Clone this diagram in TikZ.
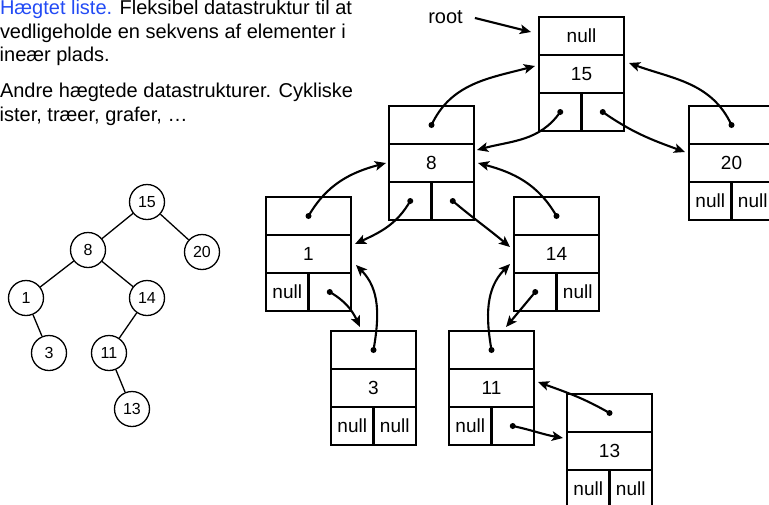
\documentclass[tikz,border=0pt]{standalone}
\usepackage{fontspec}
\setmainfont{Liberation Sans}
\usetikzlibrary{arrows.meta,calc}
\definecolor{linkblue}{RGB}{35,75,245}
\tikzset{
  cellbox/.style={draw, line width=2.1pt, minimum height=38pt, inner sep=0pt, outer sep=0pt,
    font=\fontsize{19}{19}\selectfont},
  conn/.style={line width=2.1pt, -{Stealth[length=11pt,width=9.5pt,inset=2.5pt]}},
  txt/.style={inner sep=0pt, outer sep=0pt, anchor=base west, font=\fontsize{20}{24}\selectfont},
  treenode/.style={draw, circle, line width=1.3pt, minimum size=35pt, inner sep=0pt,
    font=\fontsize{16}{16}\selectfont},
  treeedge/.style={line width=1.3pt}
}
\newcommand\mklistnode[7]{%
  \node[cellbox,minimum width=85pt] (#1t) at ({#2+42.5},{-(#3)-19}) {#4};
  \node[cellbox,minimum width=85pt] (#1m) at ({#2+42.5},{-(#3)-57}) {#5};
  \node[cellbox,minimum width=42.5pt] (#1l) at ({#2+21.25},{-(#3)-95}) {#6};
  \node[cellbox,minimum width=42.5pt] (#1r) at ({#2+63.75},{-(#3)-95}) {#7};
}
\newcommand\mklink[3]{\fill (#1) circle (3pt); \draw[conn] (#1) to[#2] (#3);}
\begin{document}
\begin{tikzpicture}[x=1pt,y=1pt]
\useasboundingbox (0,0) rectangle (769,-504);
\clip (0,0) rectangle (769,-504);
% text
\node[txt] (line1) at (0,-14.5) {{\color{linkblue}Hægtet liste.} Fleksibel datastruktur til at};
\node[txt] (line2) at (0,-38) {vedligeholde en sekvens af elementer i};
\node[txt] (line3) at (-0.3,-61.5) {ineær plads.};
\node[txt] (line4) at (0,-97.5) {Andre hægtede datastrukturer. Cykliske};
\node[txt] (line5) at (-0.3,-121) {ister, træer, grafer, …};
% small tree
\node[treenode] (c15) at (147,-202) {15};
\node[treenode] (c8) at (88,-250) {8};
\node[treenode] (c20) at (202,-252) {20};
\node[treenode] (c1) at (26,-298) {1};
\node[treenode] (c14) at (147,-298) {14};
\node[treenode] (c3) at (49,-353) {3};
\node[treenode] (c11) at (109,-353) {11};
\node[treenode] (c13) at (132,-409) {13};
\draw[treeedge] (c15) -- (c8);
\draw[treeedge] (c15) -- (c20);
\draw[treeedge] (c8) -- (c1);
\draw[treeedge] (c8) -- (c14);
\draw[treeedge] (c1) -- (c3);
\draw[treeedge] (c14) -- (c11);
\draw[treeedge] (c11) -- (c13);
% linked nodes
\mklistnode{n15}{539}{17}{null}{15}{}{}
\mklistnode{n8}{389}{106}{}{8}{}{}
\mklistnode{n20}{689}{106}{}{20}{null}{null}
\mklistnode{n1}{266}{197}{}{1}{null}{}
\mklistnode{n14}{514}{197}{}{14}{}{null}
\mklistnode{n3}{331}{331}{}{3}{null}{null}
\mklistnode{n11}{449}{331}{}{11}{null}{}
\mklistnode{n13}{567}{394}{}{13}{null}{null}
% root
\node[inner sep=0pt, font=\fontsize{20}{20}\selectfont] (root) at (445.5,-17) {root};
\draw[conn] ($(root.east)+(12,-1)$) -- ($(n15t.west)+(-8,4)$);
% links
\mklink{n8t.center}{out=65,in=195}{$(n15m.west)+(-4,8)$}
\mklink{n20t.center}{out=115,in=-20}{$(n15m.east)+(5,11)$}
\mklink{n15l.center}{out=235,in=15}{$(n8m.east)+(3,13)$}
\mklink{n15r.center}{out=-35,in=160}{$(n20m.west)+(-4,11)$}
\mklink{n14t.center}{out=120,in=-15}{$(n8m.east)+(4,0)$}
\mklink{n8l.center}{out=240,in=25}{$(n1m.east)+(4,10)$}
\mklink{n8r.center}{out=-40,in=140}{$(n14m.west)+(-4,7)$}
\mklink{n1t.center}{out=60,in=195}{$(n8m.west)+(-3,0)$}
\mklink{n1r.center}{out=-30,in=115}{$(n3t.north west)+(29,4)$}
\mklink{n3t.center}{out=80,in=-45}{$(n1m.east)+(5,-11)$}
\mklink{n14l.center}{out=-130,in=50}{$(n11t.north east)+(-28,4)$}
\mklink{n11t.center}{out=100,in=225}{$(n14m.west)+(-4,-10)$}
\mklink{n13t.center}{out=150,in=-20}{$(n11m.east)+(4,6)$}
\mklink{n11r.center}{out=-12,in=170}{$(n13m.west)+(-4,13)$}
\end{tikzpicture}
\end{document}
